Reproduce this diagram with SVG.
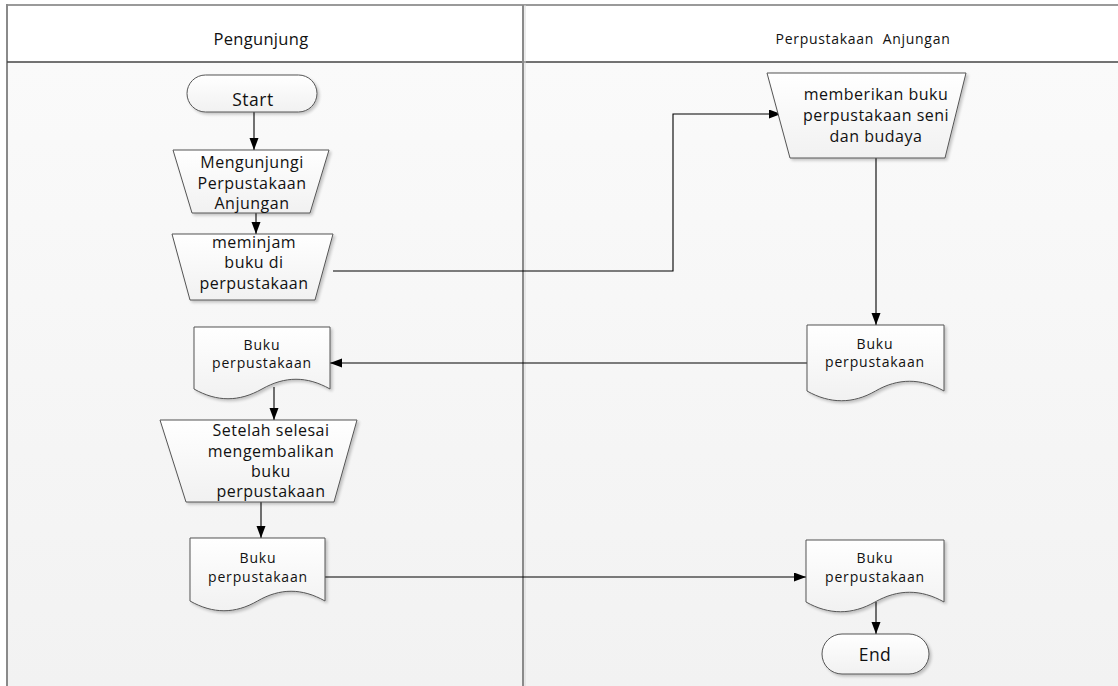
<svg xmlns="http://www.w3.org/2000/svg" width="1118" height="686" viewBox="0 0 1118 686">
  <defs>
    <linearGradient id="laneFill" x1="0" y1="0" x2="0" y2="1">
      <stop offset="0" stop-color="#fafafa"/>
      <stop offset="1" stop-color="#f2f2f2"/>
    </linearGradient>
    <linearGradient id="shapeFill" x1="0" y1="0" x2="0" y2="1">
      <stop offset="0" stop-color="#ffffff"/>
      <stop offset="1" stop-color="#f1f1f1"/>
    </linearGradient>
    <filter id="shadow" x="-10%" y="-10%" width="125%" height="130%">
      <feGaussianBlur in="SourceAlpha" stdDeviation="1.5"/>
      <feOffset dx="2" dy="2" result="b"/>
      <feComponentTransfer><feFuncA type="linear" slope="0.22"/></feComponentTransfer>
      <feMerge><feMergeNode/><feMergeNode in="SourceGraphic"/></feMerge>
    </filter>
    <marker id="arrow" markerWidth="13" markerHeight="10" refX="12" refY="4.5" orient="auto" markerUnits="userSpaceOnUse">
      <path d="M0,0 L12,4.5 L0,9 Z" fill="#000"/>
    </marker>
  </defs>
  <style>
    .shape { fill: url(#shapeFill); stroke: #555; stroke-width: 1; filter: url(#shadow); }
    .lbl { font-family: "Open Sans", "Liberation Sans", sans-serif; font-size: 16px; letter-spacing: 0.5px; fill: #111; text-anchor: middle; }
    .doc { font-family: "Open Sans", "Liberation Sans", sans-serif; font-size: 14px; letter-spacing: 0.8px; fill: #111; text-anchor: middle; }
    .term { font-family: "Open Sans", "Liberation Sans", sans-serif; font-size: 17.5px; letter-spacing: 0.5px; fill: #111; text-anchor: middle; }
    .head { font-family: "Open Sans", "Liberation Sans", sans-serif; fill: #111; text-anchor: middle; }
    .conn { fill: none; stroke: #000; stroke-width: 1.1; }
  </style>

  <!-- swimlane frame -->
  <g id="swimlanes">
    <rect x="7" y="62" width="1111" height="624" fill="url(#laneFill)"/>
    <rect x="7" y="5" width="1111" height="57" fill="#ffffff"/>
    <line x1="6" y1="5" x2="1118" y2="5" stroke="#9a9a9a" stroke-width="2"/>
    <line x1="7" y1="4" x2="7" y2="686" stroke="#8a8a8a" stroke-width="2"/>
    <line x1="7" y1="62" x2="1118" y2="62" stroke="#444" stroke-width="1.5"/>
    <line x1="523" y1="5" x2="523" y2="686" stroke="#8a8a8a" stroke-width="2"/>
    <line x1="525" y1="5" x2="525" y2="686" stroke="#d8d8d8" stroke-width="1"/>
    <text class="head" x="261" y="45" font-size="16.5" letter-spacing="0.3">Pengunjung</text>
    <text class="head" x="863" y="44" font-size="14" letter-spacing="0.7" xml:space="preserve">Perpustakaan  Anjungan</text>
  </g>

  <!-- connectors -->
  <g id="connectors">
    <path class="conn" d="M254,112 V150" marker-end="url(#arrow)"/>
    <path class="conn" d="M256,213 V234" marker-end="url(#arrow)"/>
    <path class="conn" d="M333,271 H673 V114 H781" marker-end="url(#arrow)"/>
    <path class="conn" d="M876,158 V325" marker-end="url(#arrow)"/>
    <path class="conn" d="M807,363 H330" marker-end="url(#arrow)"/>
    <path class="conn" d="M274,387 V420" marker-end="url(#arrow)"/>
    <path class="conn" d="M261,502 V538" marker-end="url(#arrow)"/>
    <path class="conn" d="M325,577 H806" marker-end="url(#arrow)"/>
    <path class="conn" d="M876,602 V634" marker-end="url(#arrow)"/>
  </g>

  <g id="start">
    <rect class="shape" x="187" y="75" width="130" height="37" rx="18.5" ry="18.5"/>
    <text class="term" x="253" y="106">Start</text>
  </g>

  <g id="mengunjungi">
    <path class="shape" d="M173,150 H329 L310,213 H192 Z"/>
    <text class="lbl" x="252" y="168">Mengunjungi</text>
    <text class="lbl" x="252" y="189">Perpustakaan</text>
    <text class="lbl" x="252" y="209">Anjungan</text>
  </g>

  <g id="meminjam">
    <path class="shape" d="M172,234 H333 L315,300 H190 Z"/>
    <text class="lbl" x="254" y="248">meminjam</text>
    <text class="lbl" x="254" y="268">buku di</text>
    <text class="lbl" x="254" y="289">perpustakaan</text>
  </g>

  <g id="memberikan">
    <path class="shape" d="M767,73 H966 L945,158 H790 Z"/>
    <text class="lbl" x="876" y="100">memberikan buku</text>
    <text class="lbl" x="876" y="121">perpustakaan seni</text>
    <text class="lbl" x="876" y="142">dan budaya</text>
  </g>

  <g id="buku-diterima">
    <path class="shape" d="M194,327 H330 V389 C307,376 285,376 262,389 C239,402 217,402 194,389 Z"/>
    <text class="doc" x="262" y="350">Buku</text>
    <text class="doc" x="262" y="368">perpustakaan</text>
  </g>

  <g id="buku-diberikan">
    <path class="shape" d="M807,325 H944 V391 C921,378 898,378 875.5,391 C853,404 830,404 807,391 Z"/>
    <text class="doc" x="875" y="349">Buku</text>
    <text class="doc" x="875" y="367">perpustakaan</text>
  </g>

  <g id="setelah-selesai">
    <path class="shape" d="M160,420 H357 L334,502 H186 Z"/>
    <text class="lbl" x="271" y="436">Setelah selesai</text>
    <text class="lbl" x="271" y="457">mengembalikan</text>
    <text class="lbl" x="271" y="477">buku</text>
    <text class="lbl" x="271" y="497">perpustakaan</text>
  </g>

  <g id="buku-dikembalikan">
    <path class="shape" d="M190,538 H325 V601 C302,588 280,588 257.5,601 C235,614 213,614 190,601 Z"/>
    <text class="doc" x="258" y="563">Buku</text>
    <text class="doc" x="258" y="582">perpustakaan</text>
  </g>

  <g id="buku-kembali">
    <path class="shape" d="M806,540 H944 V602 C921,589 898,589 875,602 C852,615 829,615 806,602 Z"/>
    <text class="doc" x="875" y="563">Buku</text>
    <text class="doc" x="875" y="582">perpustakaan</text>
  </g>

  <g id="end">
    <rect class="shape" x="822" y="634" width="107" height="40" rx="20" ry="20"/>
    <text class="term" x="875" y="661">End</text>
  </g>
</svg>
